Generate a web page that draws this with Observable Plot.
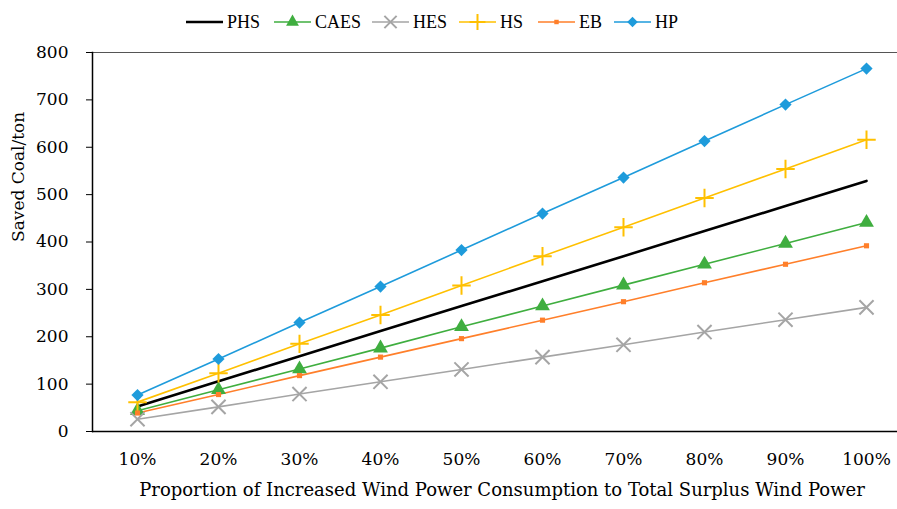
<!DOCTYPE html>
<html>
<head>
<meta charset="utf-8">
<script src="https://cdn.jsdelivr.net/npm/d3@7"></script>
<script src="https://cdn.jsdelivr.net/npm/@observablehq/plot@0.6"></script>
<style>
  html, body { margin: 0; padding: 0; background: #fff; }
  body { width: 897px; height: 509px; overflow: hidden; font-family: "DejaVu Serif", "Liberation Serif", serif; }
  #legend { position: relative; height: 40px; }
  .item { position: absolute; top: 13px; display: flex; align-items: center; font-family: "Liberation Serif", serif; font-size: 18px; color: #000; line-height: 18px; }
  .item svg { margin-right: 3px; }
</style>
</head>
<body>
<div id="legend"></div>
<div id="chart"></div>
<script>
const categories = ["10%", "20%", "30%", "40%", "50%", "60%", "70%", "80%", "90%", "100%"];
const seriesNames = ["PHS", "CAES", "HES", "HS", "EB", "HP"];
const PHS  = [53, 106, 159, 212, 265, 317, 370, 423, 476, 529];
const CAES = [44, 88, 132, 176, 221, 265, 309, 353, 397, 441];
const HES  = [26, 52, 79, 105, 131, 157, 183, 210, 236, 262];
const HS   = [62, 123, 185, 246, 308, 370, 431, 493, 554, 616];
const EB   = [39, 78, 118, 157, 196, 235, 274, 314, 353, 392];
const HP   = [77, 153, 230, 306, 383, 460, 536, 613, 690, 766];
const yTicks = [0, 100, 200, 300, 400, 500, 600, 700, 800];
const xTitle = "Proportion of Increased Wind Power Consumption to Total Surplus Wind Power";
const yTitle = "Saved Coal/ton";

const valuesByName = {PHS, CAES, HES, HS, EB, HP};
const styles = {
  PHS:  {color: "#000000", width: 2.6, symbol: null},
  CAES: {color: "#3FAE3F", width: 1.6, symbol: "triangle", fill: true, r: 5.5},
  HES:  {color: "#A5A5A5", width: 1.6, symbol: "times", fill: false, r: 6.5},
  HS:   {color: "#FFC000", width: 1.6, symbol: "plus", fill: false, r: 6},
  EB:   {color: "#FF7F2A", width: 1.6, symbol: "square", fill: true, r: 2.9},
  HP:   {color: "#1E9BDB", width: 1.6, symbol: "diamond2", fill: true, r: 5.5}
};

const data = seriesNames.flatMap(name =>
  categories.map((c, i) => ({series: name, cat: c, value: valuesByName[name][i]}))
);

const fontFamily = '"DejaVu Serif", "Liberation Serif", serif';

const marks = [
  Plot.ruleY([800], {stroke: "#555", strokeWidth: 1}),
  Plot.axisY({ticks: yTicks, tickSize: 6, tickPadding: 18, fontSize: 17, label: null, stroke: "#000"}),
  Plot.axisX({tickSize: 0, tickPadding: 21, fontSize: 17, label: null}),
  Plot.text([yTitle], {frameAnchor: "left", dx: -74, rotate: -90, fontSize: 17, fill: "#000"}),
  Plot.text([xTitle], {frameAnchor: "bottom", dx: 7, dy: 64, fontSize: 18, fill: "#000"})
];

for (const name of seriesNames) {
  const s = styles[name];
  const sub = data.filter(d => d.series === name);
  marks.push(Plot.line(sub, {x: "cat", y: "value", stroke: s.color, strokeWidth: s.width}));
}
for (const name of seriesNames) {
  const s = styles[name];
  if (!s.symbol) continue;
  const sub = data.filter(d => d.series === name);
  marks.push(Plot.dot(sub, {
    x: "cat", y: "value", symbol: () => s.symbol, r: s.r,
    fill: s.fill ? s.color : "none",
    stroke: s.fill ? "none" : s.color,
    strokeWidth: s.fill ? 0 : 2
  }));
}
marks.push(Plot.ruleY([0], {stroke: "#000", strokeWidth: 1.5}));
marks.push(Plot.frame({anchor: "left", stroke: "#000", strokeWidth: 1.5}));

const chart = Plot.plot({
  width: 897,
  height: 469,
  marginTop: 12,
  marginBottom: 78,
  marginLeft: 92,
  marginRight: 0,
  style: {fontFamily, fontSize: "17px", color: "#000", background: "#fff"},
  x: {type: "point", domain: categories, range: [92, 910], padding: 0.5, align: 0.5},
  y: {domain: [0, 800]},
  symbol: {type: "identity"},
  marks
});
document.getElementById("chart").appendChild(chart);

// legend
const legendPos = {PHS: 186, CAES: 274, HES: 372, HS: 459, EB: 538, HP: 614};
const legend = document.getElementById("legend");
const symbolMap = {triangle: d3.symbolTriangle, times: d3.symbolTimes, plus: d3.symbolPlus, square: d3.symbolSquare, diamond2: d3.symbolDiamond2};
for (const name of seriesNames) {
  const s = styles[name];
  const item = document.createElement("div");
  item.className = "item";
  item.style.left = legendPos[name] + "px";
  const svg = d3.create("svg").attr("width", 38).attr("height", 16);
  svg.append("line").attr("x1", 0).attr("x2", 37).attr("y1", 8).attr("y2", 8)
    .attr("stroke", s.color).attr("stroke-width", s.width);
  if (s.symbol) {
    const area = Math.PI * s.r * s.r * 0.75;
    svg.append("path").attr("transform", "translate(18.5,8)")
      .attr("d", d3.symbol(symbolMap[s.symbol], area)())
      .attr("fill", s.fill ? s.color : "none")
      .attr("stroke", s.fill ? "none" : s.color)
      .attr("stroke-width", 2);
  }
  item.appendChild(svg.node());
  const t = document.createElement("span");
  t.textContent = name;
  item.appendChild(t);
  legend.appendChild(item);
}
</script>
</body>
</html>
